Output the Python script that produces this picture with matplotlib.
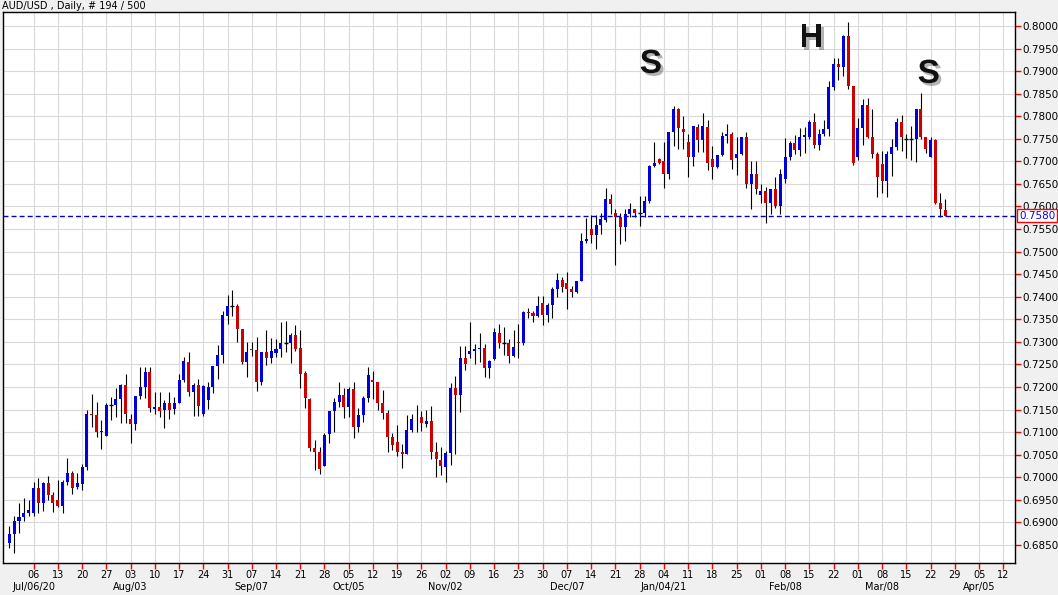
import numpy as np
import matplotlib.pyplot as plt
import matplotlib.patheffects as pe
from matplotlib.transforms import blended_transform_factory

# daily bars from Mon 2020-06-29, one per weekday
opens = [0.6855, 0.6874, 0.6902, 0.6912, 0.6921, 0.6921, 0.6976, 0.6944, 0.6987, 0.6961,
         0.6950, 0.6936, 0.6990, 0.7009, 0.6979, 0.6985, 0.7023, 0.7141, 0.7138, 0.7101,
         0.7091, 0.7160, 0.7160, 0.7173, 0.7204, 0.7129, 0.7118, 0.7179, 0.7201, 0.7234,
         0.7151, 0.7156, 0.7148, 0.7165, 0.7151, 0.7165, 0.7216, 0.7255, 0.7190, 0.7204,
         0.7140, 0.7171, 0.7201, 0.7247, 0.7271, 0.7357, 0.7380, 0.7380, 0.7328, 0.7256,
         0.7285, 0.7282, 0.7212, 0.7278, 0.7264, 0.7276, 0.7284, 0.7297, 0.7297, 0.7315,
         0.7286, 0.7230, 0.7173, 0.7065, 0.7057, 0.7025, 0.7096, 0.7147, 0.7167, 0.7182,
         0.7156, 0.7196, 0.7112, 0.7138, 0.7176, 0.7216, 0.7211, 0.7165, 0.7143, 0.7090,
         0.7079, 0.7057, 0.7052, 0.7105, 0.7130, 0.7134, 0.7117, 0.7125, 0.7057, 0.7038,
         0.7022, 0.7054, 0.7198, 0.7182, 0.7265, 0.7273, 0.7280, 0.7284, 0.7286, 0.7243,
         0.7262, 0.7319, 0.7297, 0.7297, 0.7269, 0.7300, 0.7298, 0.7367, 0.7363, 0.7357,
         0.7386, 0.7360, 0.7382, 0.7418, 0.7437, 0.7430, 0.7417, 0.7411, 0.7435, 0.7524,
         0.7550, 0.7537, 0.7559, 0.7570, 0.7617, 0.7585, 0.7577, 0.7555, 0.7583, 0.7594,
         0.7586, 0.7586, 0.7612, 0.7690, 0.7705, 0.7701, 0.7672, 0.7764, 0.7816, 0.7772,
         0.7742, 0.7710, 0.7777, 0.7747, 0.7777, 0.7705, 0.7688, 0.7714, 0.7757, 0.7760,
         0.7708, 0.7716, 0.7755, 0.7650, 0.7672, 0.7626, 0.7635, 0.7608, 0.7639, 0.7601,
         0.7662, 0.7710, 0.7741, 0.7725, 0.7753, 0.7755, 0.7788, 0.7736, 0.7761, 0.7771,
         0.7864, 0.7916, 0.7910, 0.7978, 0.7866, 0.7709, 0.7773, 0.7825, 0.7753, 0.7716,
         0.7694, 0.7657, 0.7716, 0.7731, 0.7788, 0.7749, 0.7749, 0.7749, 0.7816, 0.7753,
         0.7710, 0.7747, 0.7607, 0.7592]
highs = [0.6892, 0.6914, 0.6944, 0.6954, 0.6950, 0.6990, 0.6998, 0.6990, 0.7003, 0.6968,
         0.6994, 0.6995, 0.7042, 0.7014, 0.7009, 0.7029, 0.7149, 0.7185, 0.7167, 0.7127,
         0.7164, 0.7178, 0.7198, 0.7207, 0.7229, 0.7140, 0.7179, 0.7244, 0.7244, 0.7244,
         0.7190, 0.7190, 0.7171, 0.7189, 0.7178, 0.7229, 0.7266, 0.7278, 0.7208, 0.7218,
         0.7204, 0.7210, 0.7247, 0.7293, 0.7368, 0.7404, 0.7415, 0.7384, 0.7328, 0.7300,
         0.7300, 0.7310, 0.7278, 0.7326, 0.7309, 0.7306, 0.7345, 0.7346, 0.7320, 0.7337,
         0.7326, 0.7235, 0.7175, 0.7083, 0.7068, 0.7097, 0.7147, 0.7176, 0.7210, 0.7197,
         0.7199, 0.7211, 0.7153, 0.7179, 0.7245, 0.7236, 0.7211, 0.7193, 0.7149, 0.7097,
         0.7116, 0.7074, 0.7138, 0.7140, 0.7160, 0.7147, 0.7149, 0.7158, 0.7078, 0.7068,
         0.7059, 0.7208, 0.7224, 0.7291, 0.7291, 0.7343, 0.7295, 0.7320, 0.7295, 0.7260,
         0.7330, 0.7340, 0.7332, 0.7306, 0.7326, 0.7340, 0.7368, 0.7376, 0.7368, 0.7402,
         0.7402, 0.7386, 0.7421, 0.7452, 0.7444, 0.7455, 0.7424, 0.7435, 0.7542, 0.7574,
         0.7581, 0.7581, 0.7586, 0.7642, 0.7628, 0.7594, 0.7585, 0.7594, 0.7607, 0.7594,
         0.7623, 0.7623, 0.7692, 0.7744, 0.7708, 0.7744, 0.7764, 0.7823, 0.7819, 0.7801,
         0.7760, 0.7778, 0.7782, 0.7807, 0.7792, 0.7733, 0.7714, 0.7766, 0.7783, 0.7766,
         0.7755, 0.7755, 0.7766, 0.7701, 0.7701, 0.7650, 0.7644, 0.7639, 0.7666, 0.7682,
         0.7752, 0.7745, 0.7758, 0.7773, 0.7776, 0.7792, 0.7807, 0.7772, 0.7792, 0.7879,
         0.7928, 0.7928, 0.7980, 0.8008, 0.7867, 0.7795, 0.7838, 0.7840, 0.7815, 0.7720,
         0.7724, 0.7724, 0.7749, 0.7795, 0.7803, 0.7761, 0.7778, 0.7816, 0.7852, 0.7753,
         0.7755, 0.7749, 0.7629, 0.7617]
lows = [0.6843, 0.6833, 0.6877, 0.6902, 0.6914, 0.6914, 0.6921, 0.6926, 0.6950, 0.6924,
        0.6934, 0.6921, 0.6983, 0.6964, 0.6973, 0.6972, 0.7016, 0.7112, 0.7090, 0.7063,
        0.7091, 0.7127, 0.7134, 0.7121, 0.7121, 0.7077, 0.7105, 0.7173, 0.7175, 0.7145,
        0.7140, 0.7134, 0.7110, 0.7128, 0.7140, 0.7164, 0.7210, 0.7179, 0.7136, 0.7136,
        0.7136, 0.7151, 0.7187, 0.7217, 0.7254, 0.7340, 0.7357, 0.7300, 0.7251, 0.7223,
        0.7269, 0.7192, 0.7204, 0.7249, 0.7254, 0.7266, 0.7266, 0.7278, 0.7254, 0.7280,
        0.7198, 0.7154, 0.7059, 0.7016, 0.7007, 0.7024, 0.7075, 0.7101, 0.7155, 0.7132,
        0.7134, 0.7088, 0.7100, 0.7123, 0.7166, 0.7173, 0.7149, 0.7128, 0.7057, 0.7060,
        0.7047, 0.7021, 0.7052, 0.7101, 0.7101, 0.7103, 0.7112, 0.7040, 0.7001, 0.7005,
        0.6990, 0.7027, 0.7051, 0.7145, 0.7238, 0.7264, 0.7251, 0.7255, 0.7223, 0.7219,
        0.7260, 0.7287, 0.7271, 0.7254, 0.7267, 0.7265, 0.7292, 0.7352, 0.7343, 0.7356,
        0.7337, 0.7343, 0.7352, 0.7399, 0.7410, 0.7372, 0.7400, 0.7409, 0.7435, 0.7520,
        0.7520, 0.7506, 0.7539, 0.7566, 0.7583, 0.7470, 0.7517, 0.7524, 0.7576, 0.7576,
        0.7557, 0.7576, 0.7607, 0.7687, 0.7694, 0.7642, 0.7662, 0.7733, 0.7727, 0.7727,
        0.7666, 0.7690, 0.7721, 0.7721, 0.7681, 0.7660, 0.7686, 0.7713, 0.7740, 0.7683,
        0.7670, 0.7714, 0.7642, 0.7594, 0.7628, 0.7607, 0.7564, 0.7583, 0.7596, 0.7583,
        0.7651, 0.7702, 0.7716, 0.7713, 0.7718, 0.7749, 0.7729, 0.7725, 0.7756, 0.7756,
        0.7858, 0.7880, 0.7889, 0.7860, 0.7692, 0.7702, 0.7736, 0.7751, 0.7707, 0.7622,
        0.7631, 0.7622, 0.7668, 0.7725, 0.7724, 0.7707, 0.7702, 0.7699, 0.7749, 0.7718,
        0.7709, 0.7606, 0.7576, 0.7578]
closes = [0.6874, 0.6902, 0.6912, 0.6921, 0.6927, 0.6976, 0.6944, 0.6987, 0.6961, 0.6944,
          0.6936, 0.6990, 0.7009, 0.6976, 0.6988, 0.7023, 0.7140, 0.7139, 0.7101, 0.7103,
          0.7160, 0.7160, 0.7173, 0.7204, 0.7140, 0.7118, 0.7179, 0.7201, 0.7234, 0.7154,
          0.7156, 0.7147, 0.7165, 0.7149, 0.7165, 0.7216, 0.7258, 0.7190, 0.7204, 0.7159,
          0.7203, 0.7201, 0.7247, 0.7271, 0.7360, 0.7380, 0.7380, 0.7329, 0.7256, 0.7278,
          0.7283, 0.7212, 0.7278, 0.7264, 0.7280, 0.7284, 0.7297, 0.7297, 0.7315, 0.7284,
          0.7229, 0.7175, 0.7065, 0.7057, 0.7018, 0.7094, 0.7147, 0.7167, 0.7182, 0.7156,
          0.7196, 0.7112, 0.7138, 0.7176, 0.7227, 0.7212, 0.7165, 0.7143, 0.7090, 0.7072,
          0.7057, 0.7052, 0.7105, 0.7129, 0.7128, 0.7120, 0.7125, 0.7057, 0.7040, 0.7026,
          0.7054, 0.7198, 0.7182, 0.7265, 0.7251, 0.7280, 0.7284, 0.7286, 0.7243, 0.7258,
          0.7322, 0.7298, 0.7297, 0.7269, 0.7288, 0.7298, 0.7367, 0.7363, 0.7357, 0.7380,
          0.7360, 0.7382, 0.7418, 0.7437, 0.7422, 0.7417, 0.7411, 0.7435, 0.7524, 0.7528,
          0.7537, 0.7559, 0.7572, 0.7617, 0.7606, 0.7577, 0.7555, 0.7583, 0.7594, 0.7586,
          0.7586, 0.7612, 0.7690, 0.7697, 0.7697, 0.7671, 0.7764, 0.7816, 0.7773, 0.7764,
          0.7710, 0.7778, 0.7747, 0.7778, 0.7696, 0.7688, 0.7714, 0.7757, 0.7761, 0.7703,
          0.7716, 0.7755, 0.7650, 0.7672, 0.7639, 0.7634, 0.7608, 0.7639, 0.7601, 0.7672,
          0.7710, 0.7741, 0.7725, 0.7753, 0.7758, 0.7788, 0.7736, 0.7761, 0.7771, 0.7864,
          0.7916, 0.7910, 0.7978, 0.7866, 0.7696, 0.7773, 0.7825, 0.7753, 0.7716, 0.7666,
          0.7657, 0.7716, 0.7731, 0.7788, 0.7755, 0.7749, 0.7749, 0.7816, 0.7753, 0.7727,
          0.7747, 0.7607, 0.7594, 0.7580]

# weekly labels (Mondays), first one is bar #5 (Jul 6)
week_labels = ['06', '13', '20', '27', '03', '10', '17', '24', '31', '07', '14', '21', '28',
               '05', '12', '19', '26', '02', '09', '16', '23', '30', '07', '14', '21', '28',
               '04', '11', '18', '25', '01', '08', '15', '22', '01', '08', '15', '22', '29',
               '05', '12']
month_labels = ['Jul/06/20', 'Aug/03', 'Sep/07', 'Oct/05', 'Nov/02', 'Dec/07',
                'Jan/04/21', 'Feb/08', 'Mar/08', 'Apr/05']
month_weeks = [0, 4, 9, 13, 17, 22, 26, 31, 35, 39]

last_price = 0.7580
y_ticks = np.arange(0.6850, 0.80001, 0.005)

blue = '#0000dd'
red = '#cc0000'

o = np.array(opens)
h = np.array(highs)
l = np.array(lows)
c = np.array(closes)
x = np.arange(len(o))

fig = plt.figure(figsize=(10.58, 5.95), dpi=100, facecolor='#f0f0f0')
ax = fig.add_axes([3 / 1058, 1 - 563 / 595, 1012 / 1058, 551 / 595])
ax.set_facecolor('white')

# grid
week_pos = 5 + 5 * np.arange(len(week_labels))
ax.set_axisbelow(True)
ax.set_xticks(week_pos)
ax.set_xticklabels(week_labels)
ax.set_yticks(y_ticks)
ax.set_yticklabels(['%.4f' % v for v in y_ticks])
ax.grid(color='#d9d9d9', lw=0.8)

# candles
ax.vlines(x, l, h, color='black', lw=0.8, zorder=2)
up = c > o
dn = c < o
dj = c == o
ax.bar(x[up], (c - o)[up], bottom=o[up], width=0.62, color=blue, lw=0, zorder=3)
ax.bar(x[dn], (o - c)[dn], bottom=c[dn], width=0.62, color=red, lw=0, zorder=3)
ax.hlines(o[dj], x[dj] - 0.4, x[dj] + 0.4, color='black', lw=1, zorder=3)

# last price line
ax.axhline(last_price, color='#0000cc', lw=1, dashes=(3.6, 2.2), zorder=4)
tr = blended_transform_factory(ax.transAxes, ax.transData)
ax.text(1.004, last_price, '%.4f' % last_price, transform=tr, color='#0000ff',
        fontsize=7.5, ha='left', va='center', zorder=10, clip_on=False,
        bbox=dict(boxstyle='square,pad=0.15', fc='white', ec='red', lw=1))

# head & shoulders letters
shadow = [pe.SimplePatchShadow(offset=(2, -2), shadow_rgbFace='0.35', alpha=0.45), pe.Normal()]
for xi, yi, s in [(132.3, 0.7896, 'S'), (165.4, 0.7954, 'H'), (189.6, 0.7874, 'S')]:
    ax.text(xi, yi, s, fontsize=24, fontweight='bold', family='Liberation Sans',
            ha='center', va='baseline', color='#111111', path_effects=shadow, zorder=6)

ax.set_xlim(-1.3, 207.4)
ax.set_ylim(0.6810, 0.8031)

ax.yaxis.tick_right()
ax.tick_params(axis='y', color='red', labelcolor='black', length=4, width=1,
               pad=1, labelsize=7.5)
ax.tick_params(axis='x', color='red', labelcolor='black', length=4, width=1,
               pad=1, labelsize=7)
for sp in ax.spines.values():
    sp.set_color('black')
    sp.set_linewidth(1)

xtr = ax.get_xaxis_transform()
for k, lab in zip(month_weeks, month_labels):
    ax.text(5 + 5 * k, -0.044, lab, transform=xtr, ha='center', va='center',
            fontsize=7, clip_on=False)

fig.text(2 / 1058, 1 - 6 / 595, 'AUD/USD , Daily, # 194 / 500', fontsize=7,
         ha='left', va='center')

fig.savefig('out.png', dpi=100, facecolor=fig.get_facecolor())
